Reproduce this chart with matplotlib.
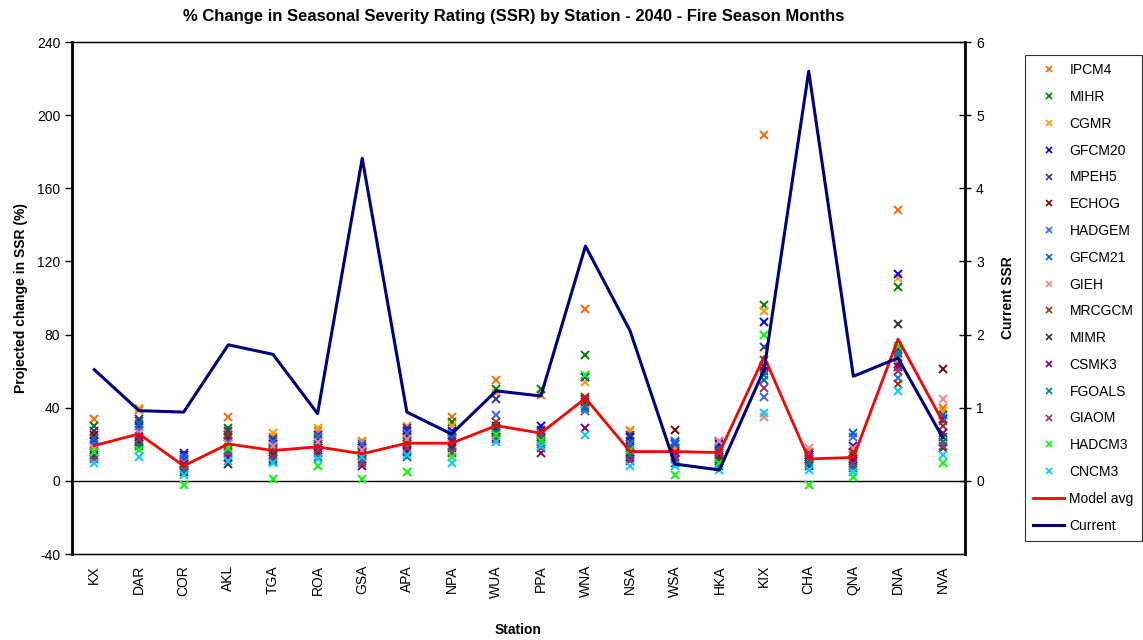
import matplotlib
matplotlib.use("Agg")
import matplotlib.pyplot as plt
from matplotlib.lines import Line2D
import numpy as np

plt.rcParams['font.family'] = ['Liberation Sans', 'DejaVu Sans']
plt.rcParams['axes.unicode_minus'] = False

stations = ["KX", "DAR", "COR", "AKL", "TGA", "ROA", "GSA", "APA", "NPA", "WUA",
            "PPA", "WNA", "NSA", "WSA", "HKA", "KIX", "CHA", "QNA", "DNA", "NVA"]

# Projected % change in SSR per climate model, one value per station
IPCM4  = [34, 39, 10, 35, 24, 27, 22, 28, 35, 55, 47, 94, 27, 18, 19, 189, 16, 15, 148, 40]
MIHR   = [30, 33, 9, 29, 22, 23, 17, 25, 32, 50, 50, 69, 22, 15, 14, 96, 13, 10, 106, 24]
CGMR   = [27, 40, 11, 26, 26, 29, 21, 30, 30, 48, 25, 54, 28, 17, 17, 93, 15, 13, 111, 38]
GFCM20 = [22, 30, 14, 24, 20, 22, 18, 27, 27, 30, 30, 57, 24, 21, 20, 87, 12, 19, 113, 34]
MPEH5  = [27, 34, 15, 27, 23, 25, 19, 29, 25, 45, 28, 57, 25, 20, 21, 73, 8, 14, 72, 21]
ECHOG  = [25, 22, 8, 22, 18, 20, 16, 24, 23, 28, 27, 45, 19, 28, 13, 63, 14, 12, 64, 61]
HADGEM = [20, 28, 13, 21, 21, 24, 20, 26, 26, 36, 26, 38, 20, 22, 22, 46, 11, 24, 56, 33]
GFCM21 = [23, 31, 12, 15, 17, 19, 15, 22, 24, 27, 24, 40, 18, 20, 18, 55, 13, 26, 68, 36]
GIEH   = [18, 26, 10, 20, 19, 21, 17, 23, 20, 29, 22, 42, 16, 14, 22, 35, 18, 18, 66, 45]
MRCGCM = [16, 20, 7, 25, 16, 18, 14, 20, 19, 32, 23, 46, 15, 16, 12, 66, 12, 16, 53, 30]
MIMR   = [14, 21, 5, 9, 14, 16, 12, 17, 18, 29, 21, 43, 13, 12, 11, 60, 9, 8, 86, 18]
CSMK3  = [13, 24, 9, 13, 12, 15, 8, 16, 21, 24, 15, 29, 12, 15, 16, 62, 14, 11, 62, 26]
FGOALS = [15, 19, 6, 17, 11, 13, 11, 13, 16, 26, 20, 41, 14, 10, 8, 58, 10, 7, 70, 21]
GIAOM  = [12, 23, 8, 16, 13, 17, 10, 18, 15, 23, 18, 44, 11, 13, 15, 51, 15, 9, 60, 19]
HADCM3 = [16, 17, -2, 18, 1, 8, 1, 5, 13, 25, 22, 58, 17, 3, 10, 80, -2, 2, 74, 10]
CNCM3  = [10, 13, 3, 11, 10, 12, 13, 14, 10, 21, 19, 25, 8, 8, 6, 37, 6, 5, 49, 14]

model_avg = [19.3, 25.7, 8.2, 20.2, 16.6, 18.6, 14.8, 20.6, 20.6, 30.2,
             26.1, 45.2, 16.0, 16.0, 15.5, 68.0, 12.0, 12.8, 77.5, 32.4]

current_ssr = [1.52, 0.96, 0.94, 1.86, 1.73, 0.92, 4.41, 0.94, 0.64, 1.23,
               1.16, 3.21, 2.05, 0.23, 0.15, 1.52, 5.60, 1.43, 1.68, 0.59]

models = [
    ("IPCM4", IPCM4, "#FF6600"),
    ("MIHR", MIHR, "#008000"),
    ("CGMR", CGMR, "#FF9900"),
    ("GFCM20", GFCM20, "#0000FF"),
    ("MPEH5", MPEH5, "#333399"),
    ("ECHOG", ECHOG, "#800000"),
    ("HADGEM", HADGEM, "#3366FF"),
    ("GFCM21", GFCM21, "#0066CC"),
    ("GIEH", GIEH, "#FF8080"),
    ("MRCGCM", MRCGCM, "#993300"),
    ("MIMR", MIMR, "#333333"),
    ("CSMK3", CSMK3, "#800080"),
    ("FGOALS", FGOALS, "#008080"),
    ("GIAOM", GIAOM, "#993366"),
    ("HADCM3", HADCM3, "#00FF00"),
    ("CNCM3", CNCM3, "#00CCFF"),
]

fig = plt.figure(figsize=(11.43, 6.40), dpi=100)
ax = fig.add_axes([72 / 1143, 86 / 640, 893 / 1143, 512 / 640])

x = np.arange(len(stations)) + 0.5
handles = []
for name, vals, col in models:
    ax.plot(x, vals, linestyle="none", marker="x", markersize=6,
            markeredgewidth=1.4, color=col, zorder=3)
    handles.append(Line2D([], [], linestyle="none", marker="x", markersize=5,
                          markeredgewidth=1.2, color=col, label=name))

ax.plot(x, model_avg, color="#FF0000", linewidth=2.0, zorder=4)
handles.append(Line2D([], [], color="#FF0000", linewidth=2.0, label="Model avg"))

ax.axhline(0, color="black", linewidth=1.0, zorder=2)
ax.set_xlim(0, len(stations))
ax.set_ylim(-40, 240)
ax.set_yticks(np.arange(-40, 241, 40))
ax.set_xticks(x)
ax.set_xticklabels(stations, rotation=90, fontsize=10)
ax.tick_params(axis="x", length=0, pad=8)
ax.tick_params(axis="y", direction="out", length=5, width=1, labelsize=10)
ax.set_ylabel("Projected change in SSR (%)", fontsize=10, fontweight="bold", labelpad=6)
ax.set_xlabel("Station", fontsize=10, fontweight="bold", labelpad=18)
for side in ["top", "bottom", "right"]:
    ax.spines[side].set_linewidth(1.0)
ax.spines["left"].set_linewidth(2.0)

ax2 = ax.twinx()
ax2.plot(x, current_ssr, color="#000080", linewidth=2.2, zorder=5)
handles.append(Line2D([], [], color="#000080", linewidth=2.2, label="Current"))
ax2.set_ylim(-1, 6)
ax2.set_yticks(np.arange(0, 7, 1))
ax2.tick_params(axis="y", direction="inout", length=9, width=1, labelsize=10)
ax2.spines["right"].set_linewidth(2.0)
ax2.set_ylabel("Current SSR", fontsize=10, fontweight="bold", labelpad=12)

fig.text(514 / 1143, 1 - 17 / 640,
         "% Change in Seasonal Severity Rating (SSR) by Station - 2040 - Fire Season Months",
         ha="center", va="center", fontsize=12, fontweight="bold")

leg = fig.legend(handles=handles, loc="upper left",
                 bbox_to_anchor=(1025 / 1143, 1 - 55 / 640),
                 fontsize=10, frameon=True, fancybox=False, edgecolor="black",
                 labelspacing=0.92, handlelength=2.2, handletextpad=0.4,
                 borderpad=0.6, borderaxespad=0)
leg.get_frame().set_linewidth(0.8)

fig.savefig("out.png", dpi=100)
